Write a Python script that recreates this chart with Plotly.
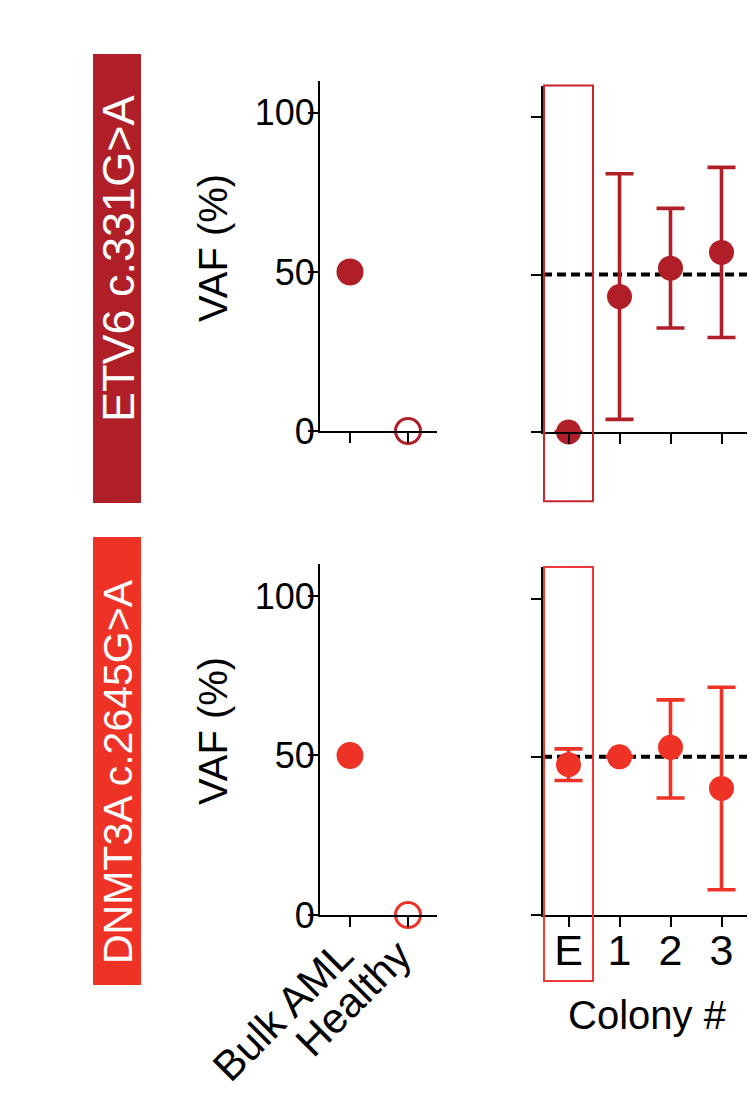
import plotly.graph_objects as go

# ---------------- data ----------------
mutations = ["ETV6 c.331G>A", "DNMT3A c.2645G>A"]
bulk_categories = ["Bulk AML", "Healthy"]
etv6_bulk_vaf = [50, 0]
dnmt3a_bulk_vaf = [50, 0]

colony_labels = ["E", "1", "2", "3"]
etv6_colony_mean = [0, 43, 52, 57]
etv6_colony_upper = [None, 82, 71, 84]
etv6_colony_lower = [None, 4, 33, 30]
dnmt3a_colony_mean = [47.5, 50, 53, 40]
dnmt3a_colony_upper = [52.5, None, 68, 72]
dnmt3a_colony_lower = [42.5, None, 37, 8]

y_ticks = [0, 50, 100]
reference_vaf = 50

# ---------------- style ----------------
W, H = 754, 1096
FONT = "Liberation Sans, Arial, sans-serif"
DARK = "#B01F27"
BRIGHT = "#EE3326"
RECT1 = "#C8242D"
RECT2 = "#EE3A36"


def px_x(p):
    return p / W


def px_y(p):
    return 1 - p / H


def plus(mean, up):
    return [None if u is None else u - m for m, u in zip(mean, up)]


def minus(mean, lo):
    return [None if l is None else m - l for m, l in zip(mean, lo)]


fig = go.Figure()

rows = [
    dict(bulk=etv6_bulk_vaf, mean=etv6_colony_mean, up=etv6_colony_upper,
         lo=etv6_colony_lower, color=DARK, xl="x", yl="y", xr="x2", yr="y2"),
    dict(bulk=dnmt3a_bulk_vaf, mean=dnmt3a_colony_mean, up=dnmt3a_colony_upper,
         lo=dnmt3a_colony_lower, color=BRIGHT, xl="x3", yl="y3", xr="x4", yr="y4"),
]

for r in rows:
    # Bulk AML: filled circle
    fig.add_trace(go.Scatter(
        x=bulk_categories[:1], y=r["bulk"][:1], mode="markers",
        xaxis=r["xl"], yaxis=r["yl"], cliponaxis=False, showlegend=False,
        marker=dict(size=27, color=r["color"], opacity=1, line=dict(width=0))))
    # Healthy: open circle
    fig.add_trace(go.Scatter(
        x=bulk_categories[1:], y=r["bulk"][1:], mode="markers",
        xaxis=r["xl"], yaxis=r["yl"], cliponaxis=False, showlegend=False,
        marker=dict(size=25, color="white", opacity=1,
                    line=dict(color=r["color"], width=3))))
    fig.add_trace(go.Scatter(
        x=colony_labels, y=r["mean"], mode="markers", xaxis=r["xr"], yaxis=r["yr"],
        cliponaxis=False, showlegend=False,
        marker=dict(size=25, color=r["color"], opacity=1, line=dict(width=0)),
        error_y=dict(type="data", symmetric=False, array=plus(r["mean"], r["up"]),
                     arrayminus=minus(r["mean"], r["lo"]), color=r["color"],
                     thickness=3.6, width=14)))

axis_common = dict(showline=True, linecolor="black", linewidth=2, ticks="outside",
                   tickwidth=2, tickcolor="black", ticklen=10, showgrid=False,
                   zeroline=False, fixedrange=True, automargin=False)

left_x = [px_x(320), px_x(437)]
right_x = [px_x(543), px_x(747)]

layout = dict(
    width=W, height=H, margin=dict(l=0, r=0, t=0, b=0, autoexpand=False),
    autosize=False,
    paper_bgcolor="white", plot_bgcolor="rgba(0,0,0,0)",
    font=dict(family=FONT, color="black"),
    showlegend=False,
    xaxis=dict(axis_common, domain=left_x, anchor="y", type="category",
               range=[-0.517, 1.5], tickmode="array", tickvals=bulk_categories,
               showticklabels=False),
    yaxis=dict(axis_common, domain=[px_y(431), px_y(81)], anchor="x",
               range=[0, 110], tickmode="array", tickvals=y_ticks,
               tickfont=dict(size=36), ticklabelstandoff=-14),
    xaxis2=dict(axis_common, domain=right_x, anchor="y2", type="category",
                range=[-0.5, 3.5], tickmode="array", tickvals=colony_labels,
                showticklabels=False),
    yaxis2=dict(axis_common, domain=[px_y(432), px_y(85.5)], anchor="x2",
                range=[0, 110], tickmode="array", tickvals=y_ticks,
                showticklabels=False),
    xaxis3=dict(axis_common, domain=left_x, anchor="y3", type="category",
                range=[-0.517, 1.5], tickmode="array", tickvals=bulk_categories,
                ticktext=bulk_categories, tickangle=-45, tickfont=dict(size=42),
                ticklabelstandoff=-13, ticklabelshift=-9),
    yaxis3=dict(axis_common, domain=[px_y(915), px_y(564)], anchor="x3",
                range=[0, 110], tickmode="array", tickvals=y_ticks,
                tickfont=dict(size=36), ticklabelstandoff=-14),
    xaxis4=dict(axis_common, domain=right_x, anchor="y4", type="category",
                range=[-0.5, 3.5], tickmode="array", tickvals=colony_labels,
                ticktext=colony_labels, tickangle=0, tickfont=dict(size=43),
                ticklabelstandoff=-14),
    yaxis4=dict(axis_common, domain=[px_y(915), px_y(567)], anchor="x4",
                range=[0, 110], tickmode="array", tickvals=y_ticks,
                showticklabels=False),
)
fig.update_layout(**layout)

shapes = []
annotations = []

# mutation label boxes
boxes = [(54, 503, DARK, 259, 45), (537, 985, BRIGHT, 772, 41)]
for (top, bot, col, cy, fs), label in zip(boxes, mutations):
    shapes.append(dict(type="rect", xref="paper", yref="paper",
                       x0=px_x(93), x1=px_x(141), y0=px_y(bot), y1=px_y(top),
                       fillcolor=col, line=dict(width=0), layer="below"))
    annotations.append(dict(text=label, xref="paper", yref="paper",
                            x=px_x(118), y=px_y(cy), textangle=-90, showarrow=False,
                            font=dict(size=fs, color="white", family=FONT),
                            xanchor="center", yanchor="middle"))

# dashed reference line at 50 %
for xr, yr in [("x2", "y2"), ("x4", "y4")]:
    shapes.append(dict(type="line", xref=xr, yref=yr, x0=-0.5, x1=3.5,
                       y0=reference_vaf, y1=reference_vaf, layer="below",
                       line=dict(color="black", width=4, dash="9px,5px")))

# highlight box around embryo colony "E"
for xr, yr, col, ybot in [("x2", "y2", RECT1, -0.2), ("x4", "y4", RECT2, -0.19)]:
    shapes.append(dict(type="rect", xref=xr + " domain", yref=yr + " domain",
                       x0=0.005, x1=0.245, y0=ybot, y1=1.0,
                       line=dict(color=col, width=2), fillcolor="rgba(0,0,0,0)",
                       layer="above"))

# y axis titles
for cy in [248, 731]:
    annotations.append(dict(text="VAF (%)", xref="paper", yref="paper",
                            x=px_x(213), y=px_y(cy), textangle=-90, showarrow=False,
                            font=dict(size=40, family=FONT, color="black"),
                            xanchor="center", yanchor="middle"))

annotations.append(dict(text="Colony #", xref="paper", yref="paper",
                        x=px_x(647), y=px_y(1015), showarrow=False,
                        font=dict(size=40, family=FONT, color="black"),
                        xanchor="center", yanchor="middle"))

fig.update_layout(shapes=shapes, annotations=annotations)
fig.write_html("out.html",
               config={"displayModeBar": False, "staticPlot": True},
               post_script="document.body.style.margin='0';"
                           "document.body.style.overflow='hidden';")
